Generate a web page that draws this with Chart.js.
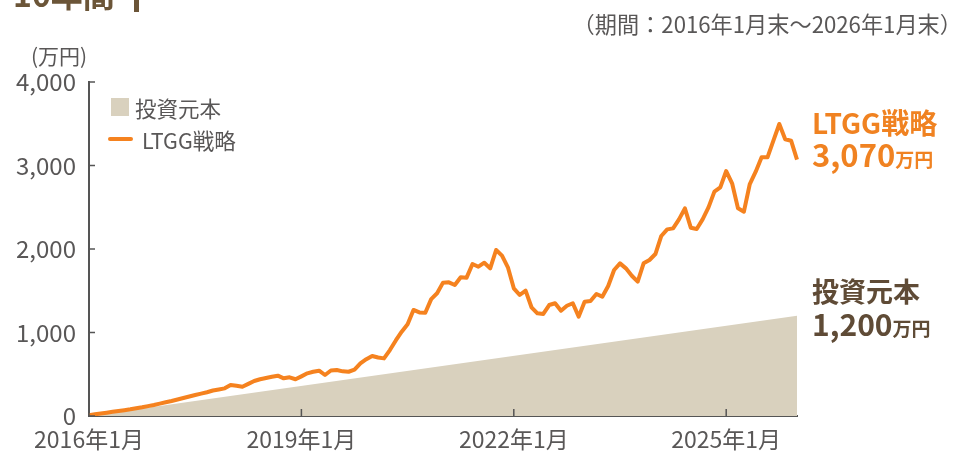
<!DOCTYPE html>
<html>
<head>
<meta charset="utf-8">
<script src="https://cdn.jsdelivr.net/npm/chart.js@4"></script>
<style>
  body { margin: 0; background: #fff; font-family: "Noto Sans CJK JP", "Noto Sans", sans-serif; }
  #wrap { position: relative; width: 957px; height: 451px; overflow: hidden; }
  #chart { position: absolute; left: 0; top: 0; }
  .txt { position: absolute; white-space: nowrap; }
  #title { left: 13px; top: -23px; font-size: 32px; font-weight: bold; color: #6b5538; line-height: 32px; }
  #bar { position: absolute; left: 134px; top: 0; width: 5px; height: 12px; background: #6b5538; }
  #period { right: -5px; top: 7px; font-size: 22.2px; color: #595757; }
  #unit { left: 31px; top: 40px; font-size: 21px; color: #595757; }
  .leg { font-size: 21.5px; color: #595757; }
  #sw1 { position: absolute; left: 111px; top: 98px; width: 18px; height: 18px; background: #d9d1be; }
  #sw2 { position: absolute; left: 108px; top: 137px; width: 25px; height: 4px; background: #f5821f; border-radius: 2px; }
  .big { font-weight: bold; line-height: 32px; }
  .big small { font-size: 19px; }
</style>
</head>
<body>
<div id="wrap">
  <canvas id="chart" width="957" height="451"></canvas>
  <div class="txt" id="title">10年間</div>
  <div id="bar"></div>
  <div class="txt" id="period">（期間：2016年1月末～2026年1月末）</div>
  <div class="txt" id="unit">(万円)</div>
  <div id="sw1"></div>
  <div class="txt leg" style="left:135px; top:92px;">投資元本</div>
  <div id="sw2"></div>
  <div class="txt leg" style="left:142px; top:124px;">LTGG戦略</div>
  <div class="txt big" style="left:812px; top:106px; color:#f08221; font-size:28px;">LTGG戦略<br><span style="font-size:31px">3,070</span><small>万円</small></div>
  <div class="txt big" style="left:812px; top:275px; color:#5f4b36; font-size:27px;">投資元本<br><span style="font-size:30px">1,200</span><small>万円</small></div>
</div>
<script>
// monthly labels 2016年1月 .. 2026年1月
const months = [];
for (let y = 2016; y <= 2026; y++) {
    for (let m = 1; m <= 12; m++) {
        if (y === 2026 && m > 1) break;
        months.push(y + '年' + m + '月');
    }
}
const tickLabels = ['2016年1月', '2019年1月', '2022年1月', '2025年1月'];
const yTicks = [0, 1000, 2000, 3000, 4000];

// LTGG strategy value (万円), one per month
const ltgg = [
    10, 20, 30, 40, 50, 60, 70, 80, 92, 104,
    118, 132, 148, 164, 180, 198, 216, 234, 251, 268,
    285, 305, 318, 331, 371, 362, 351, 385, 419, 440,
    455, 470, 483, 451, 463, 440, 475, 511, 530, 543,
    491, 545, 551, 535, 530, 555, 630, 680, 719, 700,
    690, 790, 905, 1010, 1100, 1270, 1240, 1237, 1400, 1470,
    1597, 1601, 1569, 1661, 1657, 1820, 1788, 1836, 1768, 1988,
    1920, 1781, 1529, 1449, 1501, 1302, 1230, 1222, 1329, 1350,
    1261, 1320, 1350, 1190, 1369, 1377, 1461, 1429, 1557, 1749,
    1828, 1768, 1680, 1610, 1828, 1868, 1940, 2156, 2235, 2247,
    2355, 2487, 2255, 2239, 2355, 2499, 2687, 2738, 2934, 2787,
    2487, 2447, 2778, 2926, 3098, 3098, 3297, 3497, 3314, 3297,
    3070
];
// principal grows in a straight line
const principalMonths = ['2016年1月', '2026年1月'];
const principal = [0, 1200];

const axisColor = '#555555';
const textColor = '#595757';

Chart.defaults.font.family = '"Noto Sans CJK JP", "Noto Sans", sans-serif';

// short tick marks pointing into the plot
const innerTicks = {
    id: 'innerTicks',
    afterDraw(chart) {
        const ctx = chart.ctx;
        const xs = chart.scales.x, ys = chart.scales.y;
        const area = chart.chartArea;
        ctx.save();
        ctx.strokeStyle = axisColor;
        ctx.lineWidth = 1.5;
        ctx.beginPath();
        tickLabels.forEach(l => {
            const px = xs.getPixelForValue(months.indexOf(l));
            ctx.moveTo(px, area.bottom);
            ctx.lineTo(px, area.bottom - 7);
        });
        yTicks.forEach(v => {
            const py = ys.getPixelForValue(v);
            ctx.moveTo(area.left, py);
            ctx.lineTo(area.left + 6, py);
        });
        ctx.stroke();
        ctx.restore();
    }
};

new Chart(document.getElementById('chart'), {
    type: 'line',
    data: {
        labels: months,
        datasets: [{
            label: 'LTGG戦略',
            data: ltgg,
            borderColor: '#f5821f',
            borderWidth: 4,
            borderJoinStyle: 'round',
            pointRadius: 0,
            fill: false,
            tension: 0,
            order: 1
        }, {
            label: '投資元本',
            data: principal.map((v, i) => ({ x: principalMonths[i], y: v })),
            backgroundColor: '#d9d1be',
            borderWidth: 0,
            pointRadius: 0,
            fill: 'origin',
            order: 2
        }]
    },
    options: {
        responsive: false,
        animation: false,
        layout: { padding: { top: 82, right: 160, bottom: 0, left: 0 } },
        plugins: { legend: { display: false }, tooltip: { enabled: false } },
        scales: {
            x: {
                grid: { display: true, drawOnChartArea: false, drawTicks: false },
                border: { color: axisColor, width: 2 },
                ticks: {
                    autoSkip: false,
                    maxRotation: 0,
                    padding: 9,
                    color: textColor,
                    font: { size: 23 },
                    callback: function (v) {
                        const l = this.getLabelForValue(v);
                        return tickLabels.includes(l) ? l : null;
                    }
                },
                afterFit: s => { s.height = 35; }
            },
            y: {
                min: 0,
                max: 4000,
                grid: { display: true, drawOnChartArea: false, drawTicks: false },
                border: { color: axisColor, width: 2 },
                ticks: {
                    stepSize: 1000,
                    padding: 13,
                    color: textColor,
                    font: { size: 24 },
                    callback: v => v.toLocaleString('en-US')
                },
                afterFit: s => { s.width = 89; }
            }
        }
    },
    plugins: [innerTicks]
});
</script>
</body>
</html>
